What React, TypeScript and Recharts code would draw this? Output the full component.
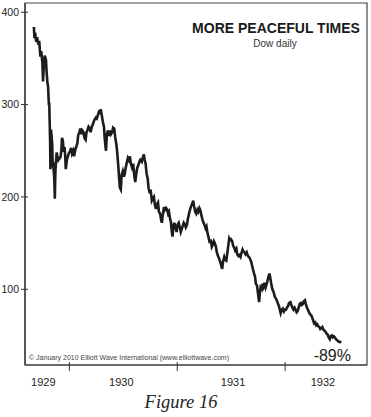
import React from "react";
import { LineChart, Line, XAxis, YAxis, ReferenceArea } from "recharts";

// Dow daily, Sept 1929 - July 1932
const dates1929 = [
  "1929-09-03", "1929-09-05", "1929-09-07", "1929-09-11", "1929-09-14", "1929-09-18",
  "1929-09-21", "1929-09-25", "1929-09-28", "1929-10-02", "1929-10-04", "1929-10-07",
  "1929-10-10", "1929-10-14", "1929-10-16", "1929-10-19", "1929-10-21", "1929-10-23",
  "1929-10-24", "1929-10-25", "1929-10-28", "1929-10-29", "1929-10-30", "1929-10-31",
  "1929-11-04", "1929-11-06", "1929-11-07", "1929-11-11", "1929-11-13", "1929-11-14",
  "1929-11-15", "1929-11-19", "1929-11-21", "1929-11-25", "1929-11-27", "1929-12-02",
  "1929-12-05", "1929-12-07", "1929-12-10", "1929-12-13", "1929-12-16", "1929-12-18",
  "1929-12-20", "1929-12-24", "1929-12-27", "1929-12-31",
];
const dow1929 = [
  384, 372, 378, 368, 373, 365,
  369, 352, 358, 345, 325, 345,
  353, 348, 336, 323, 320, 305,
  299, 302, 260, 230, 258, 273,
  257, 232, 238, 220, 198, 217,
  229, 248, 245, 240, 241, 243,
  250, 264, 261, 249, 254, 244,
  230, 241, 244, 248,
];

const dates1930 = [
  "1930-01-03", "1930-01-07", "1930-01-10", "1930-01-14", "1930-01-17", "1930-01-21",
  "1930-01-24", "1930-01-28", "1930-01-31", "1930-02-04", "1930-02-07", "1930-02-11",
  "1930-02-14", "1930-02-18", "1930-02-21", "1930-02-25", "1930-02-28", "1930-03-04",
  "1930-03-07", "1930-03-11", "1930-03-14", "1930-03-18", "1930-03-21", "1930-03-25",
  "1930-03-28", "1930-04-01", "1930-04-04", "1930-04-08", "1930-04-11", "1930-04-15",
  "1930-04-17", "1930-04-21", "1930-04-24", "1930-04-28", "1930-05-01", "1930-05-05",
  "1930-05-08", "1930-05-12", "1930-05-15", "1930-05-19", "1930-05-22", "1930-05-26",
  "1930-05-29", "1930-06-02", "1930-06-05", "1930-06-09", "1930-06-12", "1930-06-16",
  "1930-06-18", "1930-06-21", "1930-06-24", "1930-06-27", "1930-07-01", "1930-07-05",
  "1930-07-08", "1930-07-11", "1930-07-15", "1930-07-18", "1930-07-21", "1930-07-25",
  "1930-07-28", "1930-08-01", "1930-08-05", "1930-08-09", "1930-08-12", "1930-08-15",
  "1930-08-19", "1930-08-22", "1930-08-26", "1930-08-29", "1930-09-03", "1930-09-06",
  "1930-09-10", "1930-09-13", "1930-09-16", "1930-09-19", "1930-09-23", "1930-09-26",
  "1930-09-30", "1930-10-03", "1930-10-07", "1930-10-10", "1930-10-14", "1930-10-17",
  "1930-10-21", "1930-10-24", "1930-10-28", "1930-10-31", "1930-11-04", "1930-11-07",
  "1930-11-10", "1930-11-13", "1930-11-17", "1930-11-20", "1930-11-24", "1930-11-28",
  "1930-12-01", "1930-12-04", "1930-12-08", "1930-12-11", "1930-12-13", "1930-12-16",
  "1930-12-19", "1930-12-22", "1930-12-26", "1930-12-30",
];
const dow1930 = [
  249, 253, 247, 250, 244, 251,
  254, 258, 267, 270, 274, 268,
  272, 270, 264, 262, 270, 273,
  276, 274, 270, 276, 278, 282,
  284, 286, 285, 289, 292, 291,
  295, 288, 282, 276, 262, 250,
  268, 272, 266, 272, 268, 270,
  275, 274, 265, 257, 248, 232,
  222, 210, 208, 224, 228, 222,
  226, 232, 238, 242, 240, 244,
  236, 232, 236, 222, 216, 224,
  232, 234, 238, 240, 238, 242,
  246, 240, 236, 226, 220, 210,
  204, 208, 196, 198, 200, 192,
  187, 192, 194, 184, 182, 176,
  172, 180, 189, 186, 188, 186,
  182, 184, 176, 172, 164, 157,
  168, 172, 167, 162,
];

const dates1931 = [
  "1931-01-02", "1931-01-06", "1931-01-09", "1931-01-13", "1931-01-16", "1931-01-20",
  "1931-01-23", "1931-01-27", "1931-01-30", "1931-02-03", "1931-02-06", "1931-02-10",
  "1931-02-13", "1931-02-17", "1931-02-20", "1931-02-24", "1931-02-27", "1931-03-03",
  "1931-03-06", "1931-03-10", "1931-03-13", "1931-03-17", "1931-03-20", "1931-03-24",
  "1931-03-27", "1931-03-31", "1931-04-03", "1931-04-07", "1931-04-10", "1931-04-14",
  "1931-04-17", "1931-04-21", "1931-04-24", "1931-04-28", "1931-05-01", "1931-05-05",
  "1931-05-08", "1931-05-12", "1931-05-15", "1931-05-19", "1931-05-22", "1931-05-26",
  "1931-05-29", "1931-06-02", "1931-06-05", "1931-06-09", "1931-06-12", "1931-06-16",
  "1931-06-19", "1931-06-23", "1931-06-26", "1931-06-29", "1931-07-02", "1931-07-06",
  "1931-07-09", "1931-07-13", "1931-07-16", "1931-07-20", "1931-07-23", "1931-07-27",
  "1931-07-30", "1931-08-03", "1931-08-06", "1931-08-10", "1931-08-13", "1931-08-17",
  "1931-08-20", "1931-08-24", "1931-08-27", "1931-08-31", "1931-09-03", "1931-09-08",
  "1931-09-11", "1931-09-14", "1931-09-17", "1931-09-21", "1931-09-24", "1931-09-28",
  "1931-10-01", "1931-10-05", "1931-10-08", "1931-10-10", "1931-10-14", "1931-10-17",
  "1931-10-20", "1931-10-23", "1931-10-27", "1931-10-30", "1931-11-03", "1931-11-06",
  "1931-11-09", "1931-11-12", "1931-11-16", "1931-11-19", "1931-11-23", "1931-11-27",
  "1931-12-01", "1931-12-04", "1931-12-08", "1931-12-11", "1931-12-14", "1931-12-17",
  "1931-12-21", "1931-12-24", "1931-12-28", "1931-12-31",
];
const dow1931 = [
  170, 172, 168, 162, 165, 169,
  172, 170, 167, 170, 176, 182,
  186, 190, 192, 196, 190, 184,
  182, 186, 184, 188, 186, 180,
  176, 172, 170, 166, 168, 160,
  156, 150, 154, 146, 148, 152,
  150, 146, 140, 136, 134, 130,
  127, 122, 130, 135, 132, 131,
  138, 148, 155, 153, 154, 152,
  147, 145, 142, 144, 138, 136,
  137, 135, 139, 143, 141, 140,
  138, 140, 137, 135, 134, 130,
  126, 122, 118, 114, 106, 104,
  96, 86, 98, 102, 100, 106,
  103, 107, 102, 105, 110, 114,
  117, 112, 104, 100, 97, 92,
  90, 88, 84, 82, 78, 74,
  78, 79, 76, 78,
];

const dates1932 = [
  "1932-01-04", "1932-01-07", "1932-01-11", "1932-01-14", "1932-01-19", "1932-01-22",
  "1932-01-26", "1932-01-29", "1932-02-02", "1932-02-05", "1932-02-09", "1932-02-12",
  "1932-02-16", "1932-02-19", "1932-02-23", "1932-02-26", "1932-03-01", "1932-03-04",
  "1932-03-08", "1932-03-11", "1932-03-15", "1932-03-18", "1932-03-22", "1932-03-25",
  "1932-03-29", "1932-04-01", "1932-04-05", "1932-04-08", "1932-04-12", "1932-04-15",
  "1932-04-19", "1932-04-22", "1932-04-26", "1932-04-29", "1932-05-03", "1932-05-06",
  "1932-05-10", "1932-05-13", "1932-05-17", "1932-05-20", "1932-05-24", "1932-05-27",
  "1932-05-31", "1932-06-03", "1932-06-07", "1932-06-10", "1932-06-14", "1932-06-17",
  "1932-06-21", "1932-06-24", "1932-06-28", "1932-07-01", "1932-07-05", "1932-07-08",
];
const dow1932 = [
  78, 80, 82, 85, 86, 83,
  80, 78, 80, 78, 75, 76,
  80, 84, 85, 83, 84, 87,
  88, 84, 80, 78, 75, 73,
  72, 70, 66, 63, 64, 61,
  62, 60, 59, 57, 58, 59,
  56, 55, 54, 52, 51, 48,
  46, 49, 50, 48, 49, 48,
  46, 45, 44, 43, 43, 42,
];

const yTicks = [100, 200, 300, 400];
const yearStarts = ["1930-01-01", "1931-01-01", "1932-01-01"];
const yearLabels = ["1929", "1930", "1931", "1932"];
const yearLabelDates = ["1929-10-05", "1930-06-26", "1931-07-09", "1932-05-08"];

const toTime = (d: string) => Date.parse(d + "T00:00:00Z");

const allDates = [...dates1929, ...dates1930, ...dates1931, ...dates1932];
const allDow = [...dow1929, ...dow1930, ...dow1931, ...dow1932];
const data = allDates.map((d, i) => ({ t: toTime(d), dow: allDow[i] }));

const xDomain = [toTime("1929-08-04"), toTime("1932-10-04")];
const yDomain = [18, 410];

const startTimes = yearStarts.map(toTime);
const labelTimes = yearLabelDates.map(toTime);
const xTicks = [...labelTimes, ...startTimes].sort((a, b) => a - b);

const font = "'Liberation Sans', Arial, sans-serif";
const ink = "#222";

const YTick = (props: any) => {
  const { x, y, payload } = props;
  return (
    <g>
      <line x1={x + 2} x2={x + 9} y1={y} y2={y} stroke="#333" strokeWidth={1} />
      <text x={x} y={y} dy="0.35em" textAnchor="end" fontSize={10.5} fontFamily={font} fill={ink}>
        {payload.value}
      </text>
    </g>
  );
};

const XTick = (props: any) => {
  const { x, y, payload } = props;
  const li = labelTimes.indexOf(payload.value);
  if (li === -1) {
    return <line x1={x} x2={x} y1={y - 3} y2={y + 6} stroke="#333" strokeWidth={1} />;
  }
  return (
    <text x={x} y={y + 17} dy="0.35em" textAnchor="middle" fontSize={11} fontFamily={font} fill={ink}>
      {yearLabels[li]}
    </text>
  );
};

const App = () => {
  return (
    <div style={{ position: "relative", width: 371, height: 417, background: "#fff" }}>
      <style>{"body{margin:0}"}</style>
      <LineChart width={371} height={417} data={data} margin={{ top: 3, right: 4, bottom: 0, left: 0 }}>
        <XAxis
          dataKey="t"
          type="number"
          domain={xDomain}
          ticks={xTicks}
          interval={0}
          tickSize={0}
          tickMargin={0}
          tickLine={false}
          axisLine={{ stroke: "#333", strokeWidth: 1.2 }}
          tick={<XTick />}
          height={52}
          allowDataOverflow
        />
        <YAxis
          type="number"
          domain={yDomain}
          ticks={yTicks}
          interval={0}
          width={25}
          tickSize={5}
          tickMargin={1}
          tickLine={false}
          axisLine={{ stroke: "#333", strokeWidth: 1.2 }}
          tick={<YTick />}
          allowDataOverflow
        />
        <ReferenceArea
          x1={xDomain[0]}
          x2={xDomain[1]}
          y1={yDomain[0]}
          y2={yDomain[1]}
          fill="none"
          stroke="#444"
          strokeWidth={1.2}
        />
        <Line
          type="linear"
          dataKey="dow"
          stroke="#1c1c1c"
          strokeWidth={2.6}
          strokeLinejoin="miter"
          dot={false}
          isAnimationActive={false}
        />
      </LineChart>
      <svg
        width={371}
        height={417}
        style={{ position: "absolute", left: 0, top: 0, pointerEvents: "none" }}
      >
        <text x={276} y={33} textAnchor="middle" fontSize={14} fontWeight="bold" fontFamily={font} fill="#1a1a1a">
          MORE PEACEFUL TIMES
        </text>
        <text x={275} y={47} textAnchor="middle" fontSize={10} fontFamily={font} fill="#333">
          Dow daily
        </text>
        <text x={29} y={359.5} fontSize={6.5} fontFamily={font} fill="#444" textLength={200} lengthAdjust="spacingAndGlyphs">
          © January 2010 Elliott Wave International (www.elliottwave.com)
        </text>
        <text x={351} y={361} textAnchor="end" fontSize={16} fontFamily={font} fill={ink}>
          -89%
        </text>
        <text x={181} y={407.5} textAnchor="middle" fontSize={18.5} fontStyle="italic" fontFamily="'Liberation Serif', 'Times New Roman', serif" fill="#222">
          Figure 16
        </text>
      </svg>
    </div>
  );
};

export default App;
